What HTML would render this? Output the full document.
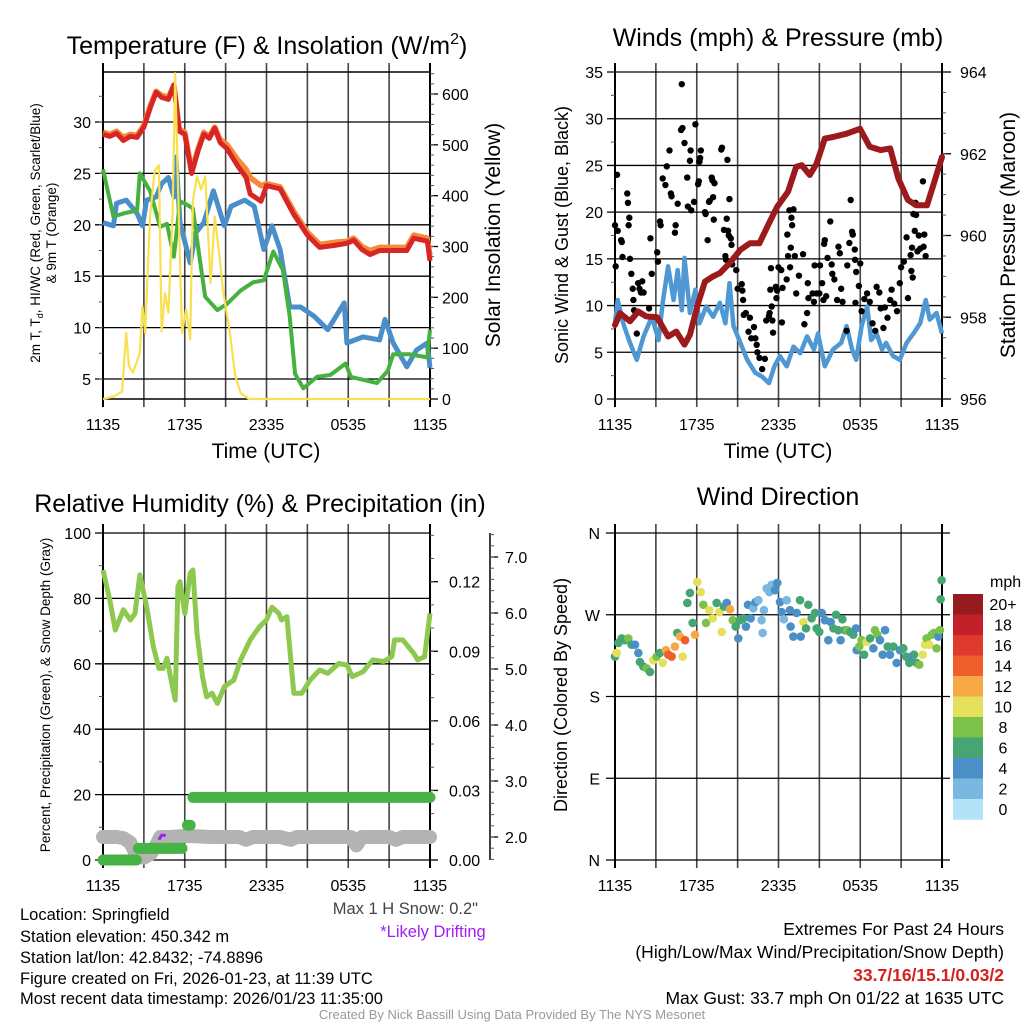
<!DOCTYPE html>
<html><head><meta charset="utf-8">
<style>
html,body{margin:0;padding:0;background:#fff;}
svg{display:block;font-family:"Liberation Sans",Arial,sans-serif;}
</style></head>
<body>
<svg id="fig" width="1024" height="1024" viewBox="0 0 1024 1024" xmlns="http://www.w3.org/2000/svg">
<rect x="0" y="0" width="1024" height="1024" fill="#fff"/>
<g id="p1"></g>
<g id="p2"></g>
<g id="p3"></g>
<g id="p4"></g>

<text x="267" y="54" font-size="25" text-anchor="middle">Temperature (F) &amp; Insolation (W/m<tspan font-size="16" dy="-10">2</tspan><tspan dy="10">)</tspan></text>
<text x="778" y="46" font-size="25" text-anchor="middle">Winds (mph) &amp; Pressure (mb)</text>
<text x="260" y="512" font-size="25" text-anchor="middle">Relative Humidity (%) &amp; Precipitation (in)</text>
<text x="778" y="505" font-size="25" text-anchor="middle">Wind Direction</text>

<text x="266" y="458" font-size="21" text-anchor="middle">Time (UTC)</text>
<text x="778" y="458" font-size="21" text-anchor="middle">Time (UTC)</text>

<text transform="translate(40,233) rotate(-90)" font-size="13.5" text-anchor="middle">2m T, T<tspan font-size="9" dy="3">d</tspan><tspan dy="-3">, HI/WC (Red, Green, Scarlet/Blue)</tspan></text>
<text transform="translate(56,233) rotate(-90)" font-size="13.5" text-anchor="middle">&amp; 9m T (Orange)</text>
<text transform="translate(500,235) rotate(-90)" font-size="21" text-anchor="middle">Solar Insolation (Yellow)</text>
<text transform="translate(568,235) rotate(-90)" font-size="18" text-anchor="middle">Sonic Wind &amp; Gust (Blue, Black)</text>
<text transform="translate(1015,235) rotate(-90)" font-size="21" text-anchor="middle">Station Pressure (Maroon)</text>
<text transform="translate(50,695) rotate(-90)" font-size="13.5" text-anchor="middle">Percent, Precipitation (Green), &amp; Snow Depth (Gray)</text>
<text transform="translate(567,695) rotate(-90)" font-size="18" text-anchor="middle">Direction (Colored By Speed)</text>

<text x="478" y="914" font-size="16.5" fill="#444" text-anchor="end">Max 1 H Snow: 0.2"</text>
<text x="433" y="937" font-size="16.5" fill="#a020f0" text-anchor="middle">*Likely Drifting</text>

<g font-size="16.5">
<text x="20" y="920">Location: Springfield</text>
<text x="20" y="942">Station elevation: 450.342 m</text>
<text x="20" y="963">Station lat/lon: 42.8432; -74.8896</text>
<text x="20" y="984">Figure created on Fri, 2026-01-23, at 11:39 UTC</text>
<text x="20" y="1004">Most recent data timestamp: 2026/01/23 11:35:00</text>
</g>
<g font-size="17.5" text-anchor="end">
<text x="1004" y="935">Extremes For Past 24 Hours</text>
<text x="1004" y="958">(High/Low/Max Wind/Precipitation/Snow Depth)</text>
<text x="1004" y="981" fill="#d42020" font-weight="bold">33.7/16/15.1/0.03/2</text>
<text x="1004" y="1004">Max Gust: 33.7 mph On 01/22 at 1635 UTC</text>
</g>
<text x="512" y="1019" font-size="13" fill="#999" text-anchor="middle">Created By Nick Bassill Using Data Provided By The NYS Mesonet</text>
</svg>

<script>
// ---------- data ----------
const timeLabels = ["1135","1735","2335","0535","1135"];

const redHours = [0,0.5,1,1.5,2,2.5,3,3.5,3.9,4.3,4.8,5.2,5.6,6.0,6.5,7.0,7.4,7.8,8.2,8.6,9.1,9.9,10.5,10.8,11.6,12.0,13.0,14.0,15.0,15.9,17.0,17.9,18.4,19.0,19.6,20.3,21.3,22.3,22.8,23.8,24];
const redTemp  = [28.8,28.6,28.9,28.2,28.6,28.5,29.5,31.5,32.9,32.4,32.2,33.6,29.1,28.8,25.0,27.3,28.8,28.4,29.4,28.0,27.4,25.7,24.6,23.0,22.3,23.8,23.5,21.0,19.0,17.8,18.0,18.2,18.5,17.6,17.1,17.5,17.5,17.5,18.7,18.4,16.5];
const orangeTemp = [29.0,28.8,29.1,28.5,28.8,28.7,29.7,31.7,33.0,32.6,32.4,33.6,29.3,29.0,25.3,27.5,29.0,28.6,29.5,28.3,27.8,26.3,25.4,24.6,23.8,24.0,23.7,21.3,19.3,18.1,18.3,18.4,18.7,17.9,17.5,17.8,17.8,17.8,19.0,18.7,17.0];

const greenHours = [0,0.76,1.5,2.5,2.7,3.45,4.2,4.7,5.2,5.65,6.1,6.6,7.0,7.5,8.4,9.1,10.1,11.0,11.8,12.5,13.2,13.7,14.1,14.7,15.7,16.7,17.8,18.2,20.1,20.9,21.3,22.5,23.8,24];
const greenTemp  = [25.4,20.8,21.1,21.4,25.0,23.3,19.8,20.1,16.9,22.3,22.0,21.6,17.6,13.0,11.7,12.3,13.6,14.4,14.6,17.4,15.6,11.1,5.5,4.1,5.2,5.4,6.5,5.2,4.6,5.8,7.4,7.4,7.1,9.8];

const blueHours = [0,0.76,1.0,1.7,2.5,2.9,3.2,3.9,4.3,4.8,5.2,5.35,5.65,6.4,6.8,7.4,8.1,8.9,9.4,10.4,11.1,11.8,12.4,13.0,13.7,14.5,15.5,16.5,17.7,17.9,19.1,20.3,20.7,21.3,22.3,23.0,23.8,24];
const blueTemp  = [20.2,19.9,22.1,22.4,21.1,19.9,22.4,22.7,24.0,24.6,22.7,26.6,20.2,16.3,19.2,20.2,23.3,19.9,21.8,22.4,21.8,17.6,19.9,17.6,12.0,12.0,11.1,9.8,12.4,8.5,9.1,8.8,10.8,8.5,6.2,7.8,8.5,6.1];

const solarHours = [0,0.8,1.4,1.7,1.9,2.2,2.7,2.9,3.1,3.45,3.8,4.1,4.3,4.55,4.8,5.1,5.3,5.5,5.8,6.1,6.4,6.6,6.9,7.2,7.5,7.9,8.2,8.5,8.8,9.3,9.7,10.1,10.7,24];
const solarWm2  = [0,5,15,130,65,52,90,182,130,359,450,460,133,208,170,359,641,425,130,176,118,390,438,412,438,228,359,293,215,133,46,12,0,0];

const windHours = [0,0.2,0.6,1.1,1.6,2.1,2.7,3.2,3.5,3.9,4.3,4.6,4.9,5.1,5.5,5.9,6.2,6.7,7.2,7.7,8.1,8.4,8.7,9.2,9.7,10.3,10.8,11.3,11.7,12.1,12.6,13.1,13.6,14.1,14.6,14.9,15.4,16.0,16.6,17.0,17.4,17.7,18.1,18.5,18.8,19.2,19.6,19.9,20.4,20.9,21.4,21.9,22.4,22.8,23.1,23.6,24];
const windMph  = [8.1,10.6,8.1,6.0,4.2,6.7,8.8,6.3,10.3,14.2,10.6,13.8,9.5,15.1,9.2,11.7,8.1,9.9,8.8,10.3,8.1,12.4,7.8,6.0,4.2,2.8,2.4,1.7,3.5,4.6,3.5,5.6,4.9,6.7,5.3,7.0,3.5,5.3,6.0,7.8,5.3,4.2,7.8,9.9,6.3,7.0,5.3,6.0,4.6,4.2,6.0,7.0,8.1,10.6,8.5,9.2,7.0];

const gustHours = [0,0.05,0.15,0.2,0.45,0.5,0.55,0.9,0.95,1.0,1.05,1.1,1.2,1.3,1.35,1.4,1.6,1.7,1.8,1.9,2.0,2.1,2.5,2.6,2.7,3.1,3.15,3.3,3.35,3.5,3.7,3.8,4.0,4.1,4.15,4.4,4.45,4.6,4.85,4.9,4.95,5.1,5.3,5.35,5.5,5.55,5.6,5.8,5.9,6.1,6.15,6.2,6.25,6.3,6.6,6.65,6.8,6.9,6.95,7.1,7.15,7.2,7.25,7.3,7.8,7.85,8.0,8.1,8.15,8.2,8.25,8.3,8.35,8.4,8.5,8.55,8.6,8.9,9.0,9.3,9.35,9.4,9.45,9.6,9.8,9.9,10.0,10.2,10.3,10.4,10.45,10.6,10.8,11.0,11.1,11.3,11.35,11.4,11.45,11.5,11.55,11.6,11.8,11.85,11.9,12.0,12.2,12.25,12.3,12.6,12.65,12.7,12.8,12.85,12.9,12.95,13.0,13.1,13.2,13.3,13.5,13.8,13.9,14.1,14.15,14.2,14.5,14.6,14.65,14.8,15.0,15.05,15.2,15.3,15.35,15.4,15.5,15.6,15.8,15.9,15.95,16.1,16.3,16.4,16.5,16.6,16.7,17.0,17.05,17.2,17.3,17.4,17.45,17.6,17.62,17.65,17.7,17.9,18.0,18.1,18.3,18.5,18.7,18.9,19.1,19.2,19.4,19.5,19.7,19.8,20.0,20.2,20.3,20.5,20.7,20.9,21.0,21.2,21.4,21.5,21.7,21.75,21.8,21.85,21.9,22.0,22.05,22.1,22.2,22.3,22.4,22.6,22.65,22.7,22.8];
const gustMph  = [18.6,14.2,24.0,18.0,17.0,16.8,15.2,22.0,21.0,18.6,19.4,15.0,13.4,11.8,10.6,9.5,7.0,12.4,11.8,11.4,12.6,11.4,9.7,17.2,13.4,15.7,14.7,19.0,18.6,23.6,22.9,24.9,26.6,22.0,21.7,17.8,18.6,20.9,28.8,33.7,29.0,27.4,23.7,20.6,25.5,26.6,20.2,21.1,29.4,23.0,23.3,25.4,25.8,26.6,20.0,19.8,17.0,21.1,21.2,23.7,23.4,21.6,19.2,23.1,26.7,26.9,18.1,15.3,14.9,19.3,25.6,18.0,17.5,21.4,17.2,16.5,14.4,13.8,11.8,12.3,11.6,10.6,9.0,9.2,7.2,8.7,6.5,7.7,6.5,5.8,5.0,4.4,3.2,4.3,8.4,8.9,9.2,11.7,14.0,9.9,8.4,7.1,12.0,10.8,11.6,14.1,13.8,8.2,11.9,12.8,17.6,15.3,20.2,14.1,16.2,19.4,18.6,20.3,15.3,11.3,13.2,15.5,8.0,9.2,12.4,10.8,11.3,10.4,14.3,11.3,11.3,14.3,12.4,10.6,16.6,17.0,11.0,15.1,19.0,14.4,13.4,12.8,10.6,16.3,15.6,11.8,10.4,7.3,14.3,16.7,21.3,17.9,17.6,16.0,14.9,10.3,13.6,12.1,14.5,9.4,10.7,11.3,10.4,8.1,7.3,12.0,11.4,9.7,7.6,9.8,8.7,10.6,11.7,10.2,9.4,12.4,14.1,14.7,17.3,10.8,15.4,13.7,16.2,13.0,19.8,18.0,21.0,19.7,15.8,17.5,16.1,23.3,16.3,17.6,15.3];

const pressHours = [0,0.37,1.1,1.7,2.3,3.1,3.9,4.5,5.1,5.5,6.1,6.6,7.2,7.7,8.4,9.2,9.9,10.6,11.3,11.9,12.7,13.3,13.7,14.3,14.8,15.4,16.0,17.0,17.98,18.7,19.5,20.2,20.8,21.5,22.1,22.9,23.4,24];
const pressMb  = [957.81,958.1,957.9,958.14,958.02,958.0,957.53,957.65,957.33,957.57,958.34,958.87,959.0,959.08,959.32,959.65,959.81,959.81,960.3,960.7,961.07,961.68,961.72,961.48,961.76,962.37,962.41,962.49,962.61,962.17,962.09,962.13,961.39,960.87,960.74,960.74,961.27,961.92];

const rhHours = [0,0.5,0.9,1.5,2.0,2.35,2.7,3.2,3.7,4.1,4.4,4.7,5.0,5.3,5.5,5.65,6.0,6.4,6.6,6.9,7.3,7.6,8.0,8.4,8.9,9.6,10.1,10.8,11.5,12.0,12.4,12.9,13.1,13.5,14.0,14.6,15.2,15.9,16.5,17.3,17.9,18.3,19.1,19.8,20.6,21.2,21.4,22.0,22.8,23.1,23.6,24];
const rhPct   = [88.7,79.5,70.3,76.5,73.4,75.4,87.2,77.5,65.2,58.6,58.6,61.7,55.0,48.9,83.6,85.1,75.4,87.7,88.7,69.3,56.1,49.9,51.0,47.9,53.0,55.0,61.2,67.3,71.4,73.4,77.3,75.4,73.4,74.4,51.0,51.0,55.0,58.1,57.1,60.1,59.6,56.1,57.6,61.2,60.7,62.2,67.3,67.3,63.2,61.2,62.2,75.4];

const precipStart = [0,2.6,6.2,6.6];
const precipEnd   = [2.45,5.8,6.4,24];
const precipIn    = [0,0.005,0.015,0.027];

const snowHours = [0,1.0,1.5,2.0,2.5,3.0,3.5,3.9,4.2,5,6,8,10,10.5,11,13,13.8,14.2,16,18.2,18.6,19,21,21.5,22,24];
const snowIn    = [2.0,2.0,1.98,1.9,1.65,1.63,1.7,1.85,2.0,2.0,2.02,2.0,2.0,1.95,2.0,2.0,1.95,2.0,2.0,2.0,1.85,2.0,2.0,1.95,2.0,2.0];
const driftHours = [4.1,4.3,4.6];
const driftIn    = [1.95,2.03,2.03];

const dirHours = [0,0.12,0.25,0.49,0.73,0.98,1.22,1.47,1.71,1.83,2.08,2.32,2.57,2.81,3.06,3.30,3.50,3.74,3.91,4.16,4.40,4.57,4.77,4.97,5.14,5.31,5.50,5.70,5.87,6.04,6.29,6.48,6.68,6.92,7.17,7.46,7.66,7.83,8.00,8.20,8.44,8.64,8.86,9.05,9.17,9.42,9.61,9.76,9.96,10.15,10.32,10.52,10.76,10.84,10.93,11.13,11.33,11.50,11.74,11.91,12.11,12.23,12.40,12.60,12.84,12.89,13.09,13.33,13.58,13.63,13.82,14.02,14.19,14.43,14.68,14.80,14.99,15.17,15.41,15.66,15.83,16.03,16.22,16.39,16.56,16.69,16.88,17.05,17.25,17.49,17.69,17.74,17.93,18.10,18.28,18.47,18.72,18.96,19.08,19.25,19.45,19.65,19.82,20.01,20.18,20.43,20.67,20.92,21.16,21.36,21.60,21.77,21.94,22.14,22.33,22.58,22.75,22.87,23.07,23.24,23.41,23.60,23.73,23.85,23.90,23.97];
const dirDeg   = [224,228,239,244,242,244,237,237,228,218,213,211,207,220,224,228,217,231,226,224,235,250,246,224,242,283,294,261,248,306,295,281,261,275,266,283,273,251,279,283,276,264,257,244,264,266,257,281,266,277,284,286,264,250,275,299,295,303,297,305,284,273,265,286,275,257,246,272,286,246,262,255,281,266,272,255,251,272,264,242,262,255,270,253,242,265,253,253,251,248,255,231,235,242,226,240,244,233,253,248,242,226,253,235,226,235,217,231,233,224,217,224,226,217,215,226,237,244,237,248,250,233,246,253,287,308];
const dirSpeed = [7,10,7,6,7,8,6,4,4,6,6,8,6,10,8,7,10,12,14,14,12,7,12,10,14,7,6,7,12,10,10,8,8,10,10,7,10,10,6,4,13,8,7,4,6,6,4,4,4,3,4,2,2,2,2,2,2,2,4,4,4,4,2,2,4,4,4,4,6,4,10,6,6,7,6,6,7,4,4,4,4,6,6,6,4,6,6,8,6,6,4,4,8,8,6,10,6,4,8,8,4,4,4,6,4,6,4,4,6,6,6,4,6,6,8,10,10,8,10,8,8,8,4,8,6,6];

const legendLabels = ["20+","18","16","14","12","10","8","6","4","2","0"];
const legendColors = ["#951b1e","#c3202a","#e03a2e","#ef5f2b","#f6a845","#e4e05a","#7cc24a","#45a673","#4a8fc6","#7ab8e2","#b3e3f7"];

// ---------- helpers ----------
const NS = "http://www.w3.org/2000/svg";
const TICK_FS = 16;
function mk(parent, tag, attrs){
  const e = document.createElementNS(NS, tag);
  for (const k in attrs) e.setAttribute(k, attrs[k]);
  parent.appendChild(e);
  return e;
}
function txt(parent, x, y, s, size, anchor){
  const t = mk(parent, "text", {x:x, y:y, "font-size":size, "text-anchor":anchor||"middle"});
  t.textContent = s;
  return t;
}
function linScale(d0,d1,r0,r1){ return v => r0 + (v-d0)*(r1-r0)/(d1-d0); }
function polyPts(hs, vs, xs, ys){ return hs.map((h,i)=>xs(h).toFixed(1)+","+ys(vs[i]).toFixed(1)).join(" "); }
function speedColor(s){
  let idx = Math.min(10, Math.floor(s/2));
  return legendColors[10-idx];
}

function frame(g, x0, x1, y0, y1, hLines, ys, opts){
  const xs = linScale(0,24,x0,x1);
  for (let h=0; h<=24; h+=3){
    const l = mk(g,"line",{x1:xs(h),x2:xs(h),y1:y0-9,y2:y1+8,stroke:(h%24===0)?"#000":"#444","stroke-width":(h%24===0)?2:1.6});
    
    
  }
  for (let i=0;i<timeLabels.length;i++){
    const t = txt(g, xs(i*6), y1+31, timeLabels[i], TICK_FS);
    
    
  }
  hLines.forEach(v=>{
    const l = mk(g,"line",{x1:x0-(opts.tickL||8),x2:x1+(opts.ext||0),y1:ys(v),y2:ys(v),stroke:"#000","stroke-width":1.3});
    
    
  });
  if (opts.box){
    const r = mk(g,"rect",{x:x0,y:y0,width:x1-x0,height:y1-y0,fill:"none",stroke:"#000","stroke-width":1.5});
    
    
  }
  return xs;
}
function minorTicks(g, x, ys, vals, dir, len){
  vals.forEach(v=>{
    const l = mk(g,"line",{x1:x,x2:x+dir*len,y1:ys(v),y2:ys(v),stroke:"#555","stroke-width":1});
    
    
  });
}
function range(a,b,s){ const r=[]; for(let v=a; v<=b+1e-9; v+=s) r.push(+v.toFixed(4)); return r; }

// ---------- panel 1 ----------
(function(){
  const g = document.getElementById("p1");
  const x0=103,x1=430,y0=72,y1=399;
  const yT = linScale(5,30,379,122);
  const yS = linScale(0,600,399,94);
  const tempTicks=[5,10,15,20,25,30];
  const xs = frame(g,x0,x1,y0,y1,tempTicks,yT,{box:true});
  minorTicks(g,x0,yT,range(2.5,35,2.5).filter(v=>yT(v)>=y0&&yT(v)<=y1),-1,4);
  tempTicks.forEach(v=>{ const t=txt(g,x0-12,yT(v)+6,String(v),TICK_FS,"end");   });
  range(0,600,100).forEach(v=>{
    const l=mk(g,"line",{x1:x1,x2:x1+8,y1:yS(v),y2:yS(v),stroke:"#000","stroke-width":1.3});
     
    const t=txt(g,x1+12,yS(v)+6,String(v),TICK_FS,"start");  
  });
  minorTicks(g,x1,yS,range(20,640,20),1,4);
  const orange = mk(g,"polyline",{points:polyPts(redHours,orangeTemp,xs,yT),fill:"none",stroke:"#f58a3a","stroke-width":5.5,"stroke-linejoin":"round"});
   
  const red = mk(g,"polyline",{points:polyPts(redHours,redTemp,xs,yT),fill:"none",stroke:"#d82626","stroke-width":5,"stroke-linejoin":"round"});
   
  const blue = mk(g,"polyline",{points:polyPts(blueHours,blueTemp,xs,yT),fill:"none",stroke:"#4a8fc9","stroke-width":5,"stroke-linejoin":"round"});
   
  const green = mk(g,"polyline",{points:polyPts(greenHours,greenTemp,xs,yT),fill:"none",stroke:"#45b13f","stroke-width":4,"stroke-linejoin":"round"});
   
  const yel = mk(g,"polyline",{points:polyPts(solarHours,solarWm2,xs,yS),fill:"none",stroke:"#f8e04e","stroke-width":2.2,"stroke-linejoin":"round"});
   
})();

// ---------- panel 2 ----------
(function(){
  const g = document.getElementById("p2");
  const x0=615,x1=942,y0=72,y1=399;
  const yW = linScale(0,35,399,72);
  const yP = linScale(956,964,399,72);
  const wTicks=[0,5,10,15,20,25,30,35];
  const xs = frame(g,x0,x1,y0,y1,wTicks,yW,{box:false,ext:0});
  mk(g,"line",{x1:x0,x2:x0,y1:y0,y2:y1,stroke:"#000","stroke-width":2});
  mk(g,"line",{x1:x1,x2:x1,y1:y0,y2:y1,stroke:"#000","stroke-width":2});
  wTicks.forEach(v=>{ const t=txt(g,x0-12,yW(v)+6,String(v),TICK_FS,"end");   });
  range(956,964,2).forEach(v=>{
    const l=mk(g,"line",{x1:x1,x2:x1+9,y1:yP(v),y2:yP(v),stroke:"#000","stroke-width":1.3});
     
    const t=txt(g,x1+18,yP(v)+6,String(v),TICK_FS,"start");  
  });
  minorTicks(g,x1,yP,range(956.5,963.5,0.5),1,4);
  minorTicks(g,x0,yW,range(2.5,32.5,5),-1,4);
  const wl = mk(g,"polyline",{points:polyPts(windHours,windMph,xs,yW),fill:"none",stroke:"#4f98d3","stroke-width":4.5,"stroke-linejoin":"round"});
   
  for (let i=0;i<gustHours.length;i++){
    const c = mk(g,"circle",{cx:xs(gustHours[i]),cy:yW(gustMph[i]),r:3.2,fill:"#000"});
    
    
  }
  const pl = mk(g,"polyline",{points:polyPts(pressHours,pressMb,xs,yP),fill:"none",stroke:"#9c1a1c","stroke-width":6,"stroke-linejoin":"round","stroke-linecap":"round"});
   
})();

// ---------- panel 3 ----------
(function(){
  const g = document.getElementById("p3");
  const x0=103,x1=430,y0=533,y1=860;
  const yR = linScale(0,100,860,533);
  const yPr = linScale(0,0.12,860,581.7);
  const ySn = linScale(2,7,837,557);
  const rTicks=[0,20,40,60,80,100];
  const xs = frame(g,x0,x1,y0,y1,rTicks,yR,{box:false});
  mk(g,"line",{x1:x0,x2:x0,y1:y0,y2:y1,stroke:"#000","stroke-width":2});
  mk(g,"line",{x1:x1,x2:x1,y1:y0,y2:y1,stroke:"#000","stroke-width":2});
  rTicks.forEach(v=>{ const t=txt(g,x0-12,yR(v)+6,String(v),TICK_FS,"end");   });
  minorTicks(g,x0,yR,range(10,90,20),-1,4);
  range(0,0.12,0.03).forEach(v=>{
    const l=mk(g,"line",{x1:x1,x2:x1+8,y1:yPr(v),y2:yPr(v),stroke:"#000","stroke-width":1.3});
     
    const t=txt(g,x1+19,yPr(v)+6,v.toFixed(2),TICK_FS,"start");  
  });
  minorTicks(g,x1,yPr,range(0.01,0.14,0.01).filter(v=>yPr(v)>=y0),1,4);
  const sa = mk(g,"line",{x1:490,x2:490,y1:533,y2:860,stroke:"#000","stroke-width":1.5});
   
  range(2,7,1).forEach(v=>{
    const l=mk(g,"line",{x1:490,x2:498,y1:ySn(v),y2:ySn(v),stroke:"#000","stroke-width":1.3});
     
    const t=txt(g,505,ySn(v)+6,v.toFixed(1),TICK_FS,"start");  
  });
  minorTicks(g,490,ySn,range(1.6,7.4,0.2),1,4);
  const sn = mk(g,"polyline",{points:polyPts(snowHours,snowIn,xs,ySn),fill:"none",stroke:"#b3b3b3","stroke-width":14,"stroke-linejoin":"round","stroke-linecap":"round"});
   
  const dr = mk(g,"polyline",{points:polyPts(driftHours,driftIn,xs,ySn),fill:"none",stroke:"#a020f0","stroke-width":3});
   
  for (let i=0;i<precipIn.length;i++){
    const s = mk(g,"line",{x1:xs(precipStart[i]),x2:xs(precipEnd[i]),y1:yPr(precipIn[i]),y2:yPr(precipIn[i]),stroke:"#47b347","stroke-width":11,"stroke-linecap":"round"});
    
    
  }
  const rh = mk(g,"polyline",{points:polyPts(rhHours,rhPct,xs,yR),fill:"none",stroke:"#8dc84f","stroke-width":5,"stroke-linejoin":"round"});
   
})();

// ---------- panel 4 ----------
(function(){
  const g = document.getElementById("p4");
  const x0=615,x1=942,y0=533,y1=860;
  const yD = linScale(0,360,860,533);
  const dTicks=[0,90,180,270,360];
  const dLabels=["N","E","S","W","N"];
  const xs = frame(g,x0,x1,y0,y1,dTicks,yD,{box:false,tickL:9,ext:8});
  mk(g,"line",{x1:x0,x2:x0,y1:y0,y2:y1,stroke:"#000","stroke-width":2});
  dTicks.forEach((v,i)=>{ const t=txt(g,x0-15,yD(v)+6,dLabels[i],TICK_FS,"end");   });
  for (let i=0;i<dirHours.length;i++){
    const c = mk(g,"circle",{cx:xs(dirHours[i]),cy:yD(dirDeg[i]),r:4.3,fill:speedColor(dirSpeed[i])});
    
    
  }
  const lg = mk(g,"g",{});
  
  
  const lt = txt(lg,990,587,"mph",TICK_FS,"start");
   
  for (let i=0;i<legendLabels.length;i++){
    const r = mk(lg,"rect",{x:953,y:594+i*20.5,width:30,height:20.8,fill:legendColors[i]});
     
    const t = txt(lg,1003,594+i*20.5+16,legendLabels[i],TICK_FS,"middle");
     
  }
})();
</script>
</body></html>
